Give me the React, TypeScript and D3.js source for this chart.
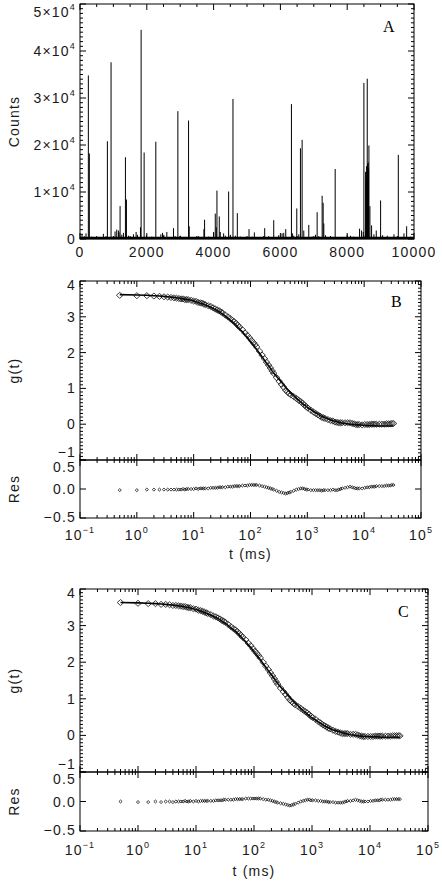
import React from 'react';
import * as d3 from 'd3';

// ---------- Panel A data: photon-count spikes ----------
const spikeBins = [
  250, 280, 820, 930, 1200, 1360, 1390, 1810, 1830, 1920, 2270, 2930, 3250, 3270, 3710, 3730,
  4050, 4080, 4100, 4170, 4450, 4580, 4710, 5060, 5220, 5530, 5800, 6160, 6330, 6490, 6600, 6650,
  6700, 6850, 7100, 7250, 7280, 7300, 7640, 8370, 8430, 8500, 8550, 8560, 8580, 8590, 8600, 8610,
  8620, 8630, 8640, 8650, 8680, 8730, 8870, 9000, 9060, 9530, 9780,
  60, 130, 180, 350, 520, 700, 780, 1050, 1100, 1150, 1170, 1250, 1300, 1450, 1600, 1680, 1720,
  1990, 2150, 2420, 2470, 2510, 2600, 2800, 2850, 3000, 3400, 3550, 3850, 4000, 4200, 4300, 4350,
  4500, 4650, 4800, 4900, 5150, 5300, 5650, 5950, 6050, 6100, 6360, 6400, 6550, 6950, 7050, 7150,
  7350, 7500, 7800, 8000, 8100, 8200, 8480, 8800, 9200, 9400, 9700, 9900,
];
const spikeCounts = [
  34800, 18200, 20800, 37600, 7000, 17400, 8400, 2500, 44500, 18400, 20700, 27200, 25200, 2700, 2100, 4100,
  5400, 2500, 10300, 4800, 10100, 29800, 5500, 2100, 1400, 2300, 4000, 2100, 28700, 6500, 19300, 21100,
  1800, 3000, 5700, 9200, 7700, 3300, 14900, 2200, 1800, 33200, 14300, 12000, 15500, 13000, 34100, 16000,
  14500, 16300, 15000, 19900, 7000, 2900, 1800, 8200, 800, 17900, 2700,
  900, 600, 1200, 500, 400, 1100, 600, 1600, 2000, 1800, 1400, 900, 1300, 700, 1000, 1500, 900,
  800, 500, 1000, 1300, 900, 1500, 2300, 600, 700, 400, 600, 500, 1500, 1500, 1200, 700,
  900, 700, 500, 400, 500, 400, 600, 800, 1200, 1300, 1200, 700, 1000, 500, 900, 600,
  800, 500, 300, 900, 700, 500, 1500, 1000, 700, 1000, 1200, 500,
];
const binTicks = [0, 2000, 4000, 6000, 8000, 10000];
const countTicks = [0, 10000, 20000, 30000, 40000, 50000];

// ---------- Panels B & C: correlation curves ----------
const lagTimes = [
  0.5, 1, 1.5, 2, 2.5, 3, 3.5, 4, 4.5, 5, 5.5, 6, 6.5, 7, 7.5, 8,
  9, 10, 11, 12, 13, 14, 15, 16,
  18, 20, 22, 24, 26, 28, 30, 32,
  36, 40, 44, 48, 52, 56, 60, 64,
  72, 80, 88, 96, 104, 112, 120, 128,
  144, 160, 176, 192, 208, 224, 240, 256,
  288, 320, 352, 384, 416, 448, 480, 512,
  576, 640, 704, 768, 832, 896, 960, 1024,
  1152, 1280, 1408, 1536, 1664, 1792, 1920, 2048,
  2304, 2560, 2816, 3072, 3328, 3584, 3840, 4096,
  4608, 5120, 5632, 6144, 6656, 7168, 7680, 8192,
  9216, 10240, 11264, 12288, 13312, 14336, 15360, 16384,
  18432, 20480, 22528, 24576, 26624, 28672, 30720, 32768,
];
const fitB = [
  3.62, 3.61, 3.60, 3.59, 3.58, 3.57, 3.56, 3.55, 3.54, 3.53, 3.52, 3.51, 3.50, 3.49, 3.48, 3.48,
  3.46, 3.44, 3.42, 3.40, 3.38, 3.37, 3.35, 3.33,
  3.30, 3.27, 3.23, 3.20, 3.17, 3.14, 3.11, 3.08,
  3.02, 2.96, 2.91, 2.86, 2.81, 2.76, 2.71, 2.66,
  2.58, 2.49, 2.42, 2.34, 2.27, 2.21, 2.15, 2.09,
  1.98, 1.88, 1.79, 1.70, 1.63, 1.56, 1.49, 1.43,
  1.33, 1.25, 1.17, 1.10, 1.03, 0.97, 0.92, 0.87,
  0.80, 0.73, 0.67, 0.62, 0.57, 0.53, 0.50, 0.46,
  0.41, 0.36, 0.32, 0.28, 0.25, 0.22, 0.20, 0.18,
  0.15, 0.12, 0.10, 0.08, 0.07, 0.05, 0.04, 0.03,
  0.02, 0.01, 0.00, -0.01, -0.01, -0.02, -0.02, -0.02,
  -0.03, -0.03, -0.04, -0.04, -0.04, -0.04, -0.04, -0.05,
  -0.05, -0.05, -0.05, -0.05, -0.05, -0.05, -0.05, -0.05,
];
const resB = [
  -0.02, -0.02, -0.01, -0.01, -0.01, -0.01, -0.01, -0.01, -0.01, -0.01, -0.01, -0.01, 0.00, -0.01, 0.00, 0.00,
  0.00, 0.00, 0.01, 0.00, 0.01, 0.01, 0.01, 0.01,
  0.01, 0.02, 0.02, 0.02, 0.02, 0.03, 0.03, 0.03,
  0.03, 0.04, 0.04, 0.04, 0.05, 0.05, 0.05, 0.05,
  0.06, 0.06, 0.06, 0.07, 0.07, 0.07, 0.07, 0.07,
  0.06, 0.05, 0.04, 0.03, 0.02, 0.01, 0.00, -0.01,
  -0.03, -0.05, -0.06, -0.07, -0.08, -0.07, -0.06, -0.05,
  -0.03, -0.01, 0.00, 0.01, 0.01, 0.00, -0.01, -0.01,
  -0.02, -0.02, -0.02, -0.02, -0.02, -0.03, -0.02, -0.02,
  -0.02, -0.02, -0.01, -0.02, -0.02, -0.01, 0.00, 0.01,
  0.02, 0.03, 0.04, 0.03, 0.02, 0.01, 0.01, 0.01,
  0.01, 0.02, 0.03, 0.03, 0.04, 0.04, 0.04, 0.05,
  0.05, 0.05, 0.05, 0.06, 0.06, 0.06, 0.07, 0.07,
];
const fitC = [
  3.63, 3.62, 3.61, 3.60, 3.59, 3.58, 3.57, 3.56, 3.55, 3.54, 3.53, 3.52, 3.51, 3.50, 3.49, 3.48,
  3.46, 3.44, 3.42, 3.40, 3.38, 3.36, 3.34, 3.32,
  3.29, 3.25, 3.22, 3.19, 3.16, 3.12, 3.09, 3.06,
  3.00, 2.94, 2.89, 2.84, 2.79, 2.74, 2.69, 2.64,
  2.56, 2.47, 2.40, 2.32, 2.25, 2.19, 2.13, 2.07,
  1.96, 1.86, 1.77, 1.69, 1.62, 1.55, 1.48, 1.42,
  1.32, 1.24, 1.17, 1.10, 1.04, 0.98, 0.93, 0.88,
  0.81, 0.74, 0.68, 0.63, 0.58, 0.54, 0.50, 0.47,
  0.42, 0.37, 0.33, 0.29, 0.26, 0.23, 0.21, 0.19,
  0.15, 0.13, 0.11, 0.09, 0.07, 0.06, 0.05, 0.04,
  0.02, 0.01, 0.00, -0.01, -0.02, -0.02, -0.03, -0.03,
  -0.03, -0.04, -0.04, -0.04, -0.04, -0.04, -0.05, -0.05,
  -0.05, -0.05, -0.05, -0.05, -0.05, -0.05, -0.05, -0.05,
];
const resC = [
  0.00, -0.01, -0.01, 0.00, -0.01, 0.00, 0.00, -0.01, 0.00, 0.00, 0.00, 0.00, 0.01, 0.00, 0.00, 0.01,
  0.00, 0.01, 0.00, 0.01, 0.01, 0.01, 0.01, 0.01,
  0.01, 0.01, 0.02, 0.02, 0.02, 0.02, 0.03, 0.03,
  0.03, 0.03, 0.03, 0.04, 0.04, 0.04, 0.04, 0.04,
  0.05, 0.05, 0.05, 0.05, 0.05, 0.05, 0.05, 0.05,
  0.04, 0.03, 0.03, 0.02, 0.01, 0.00, -0.01, -0.02,
  -0.03, -0.04, -0.05, -0.06, -0.07, -0.06, -0.05, -0.04,
  -0.02, 0.00, 0.01, 0.02, 0.03, 0.03, 0.02, 0.02,
  0.02, 0.01, 0.01, 0.00, 0.00, 0.00, -0.01, -0.01,
  -0.01, -0.02, -0.02, -0.02, -0.02, -0.01, 0.00, 0.01,
  0.01, 0.02, 0.03, 0.02, 0.01, 0.00, 0.00, 0.00,
  0.00, 0.01, 0.01, 0.02, 0.02, 0.02, 0.03, 0.03,
  0.03, 0.03, 0.03, 0.04, 0.04, 0.04, 0.04, 0.04,
];
const gTicks = [-1, 0, 1, 2, 3, 4];
const resTicks = [-0.5, 0, 0.5];
const resTickLabels = ['\u22120.5', '0.0', '0.5'];
const decadeExps = [-1, 0, 1, 2, 3, 4, 5];

const SANS = '"Liberation Sans", Arial, Helvetica, sans-serif';
const SERIF = '"Liberation Serif", "Times New Roman", serif';
const TXT = '#1a1a1a';
const LS = 1.2;

const minus = (s: string) => s.replace('-', '\u2212');

function CountsPanel() {
  const L = 80, R = 414, T = 4, B = 239;
  const x = d3.scaleLinear().domain([0, 10000]).range([L, R]);
  const y = d3.scaleLinear().domain([0, 50000]).range([B, T]);
  const xMinor = d3.range(0, 10001, 500);
  const yMinor = d3.range(0, 50001, 1000);
  return (
    <g>
      {spikeBins.map((b, i) => (
        <line key={'s' + i} x1={x(b)} x2={x(b)} y1={y(0)} y2={y(spikeCounts[i])} stroke="#000" strokeWidth={1} />
      ))}
      <line x1={L} x2={R} y1={B - 1} y2={B - 1} stroke="#000" strokeWidth={2.5} />
      <rect x={L} y={T} width={R - L} height={B - T} fill="none" stroke="#000" strokeWidth={1} />
      {xMinor.map((v) => {
        const len = v % 2000 === 0 ? 6 : 3;
        return (
          <g key={'xt' + v}>
            <line x1={x(v)} x2={x(v)} y1={B} y2={B - len} stroke="#000" />
            <line x1={x(v)} x2={x(v)} y1={T} y2={T + len} stroke="#000" />
          </g>
        );
      })}
      {yMinor.map((v) => {
        const len = v % 10000 === 0 ? 6 : 3;
        return (
          <g key={'yt' + v}>
            <line x1={L} x2={L + len} y1={y(v)} y2={y(v)} stroke="#000" />
            <line x1={R} x2={R - len} y1={y(v)} y2={y(v)} stroke="#000" />
          </g>
        );
      })}
      {binTicks.map((v) => (
        <text key={'xl' + v} x={x(v)} y={257} textAnchor="middle" fontSize={14} fill={TXT} letterSpacing={LS}>
          {v}
        </text>
      ))}
      {countTicks.map((v) => (
        <text key={'yl' + v} x={76} y={Math.max(y(v) + 5, 17)} textAnchor="end" fontSize={14} fill={TXT} letterSpacing={LS}>
          {v === 0 ? '0' : (
            <>
              {`${v / 10000}\u00d710`}
              <tspan fontSize={9} dy={-7}>4</tspan>
            </>
          )}
        </text>
      ))}
      <text transform={`translate(19,${(T + B) / 2}) rotate(-90)`} textAnchor="middle" fontSize={14} fill={TXT} letterSpacing={LS}>
        Counts
      </text>
      <text x={383} y={32} fontFamily={SERIF} fontSize={16} fill="#000">A</text>
    </g>
  );
}

type PanelProps = {
  L: number; R: number; T: number; M: number; B: number;
  fit: number[]; res: number[]; letter: string; letterX: number; letterY: number;
  tickBase: number; titleBase: number;
};

function diamond(cx: number, cy: number, w: number, h: number) {
  return `M${cx - w},${cy}L${cx},${cy - h}L${cx + w},${cy}L${cx},${cy + h}Z`;
}

function FcsPanel({ L, R, T, M, B, fit, res, letter, letterX, letterY, tickBase, titleBase }: PanelProps) {
  const x = d3.scaleLog().domain([0.1, 1e5]).range([L, R]);
  const yg = d3.scaleLinear().domain([-1, 4]).range([M, T]);
  const yr = d3.scaleLinear().domain([-0.5, 0.5]).range([B, M]);
  const rows = lagTimes.map((t, i) => ({ t, fit: fit[i], res: res[i], g: fit[i] + res[i] }));
  const fitLine = d3.line<{ t: number; fit: number }>().x((d) => x(d.t)).y((d) => yg(d.fit));

  const xt: { v: number; major: boolean }[] = [];
  for (let e = -1; e <= 4; e++) for (let k = 1; k <= 9; k++) xt.push({ v: k * Math.pow(10, e), major: k === 1 });
  xt.push({ v: 1e5, major: true });
  const gMinor = d3.range(-10, 41).map((k) => k / 10);

  // label baselines kept inside each panel's vertical span, as in the reference
  const gBase = (v: number) => (v === 4 ? yg(v) + 9 : v === -1 ? yg(v) - 3 : yg(v) + 5);
  const rBase = (v: number) => (v === 0.5 ? yr(v) + 12 : v === -0.5 ? yr(v) + 4 : yr(v) + 5);

  return (
    <g>
      <rect x={L} y={T} width={R - L} height={M - T} fill="none" stroke="#000" />
      <rect x={L} y={M} width={R - L} height={B - M} fill="none" stroke="#000" />
      {xt.map(({ v, major }, i) => {
        const len = major ? 6 : 3;
        const px = x(v);
        return (
          <g key={'xt' + i}>
            <line x1={px} x2={px} y1={T} y2={T + len} stroke="#000" />
            <line x1={px} x2={px} y1={M} y2={M - len} stroke="#000" />
            <line x1={px} x2={px} y1={M} y2={M + len} stroke="#000" />
            <line x1={px} x2={px} y1={B} y2={B - len} stroke="#000" />
          </g>
        );
      })}
      {gMinor.map((v, i) => {
        const major = Math.abs(v - Math.round(v)) < 1e-6;
        const len = major ? 6 : 3;
        return (
          <g key={'gt' + i}>
            <line x1={L} x2={L + len} y1={yg(v)} y2={yg(v)} stroke="#000" />
            <line x1={R} x2={R - len} y1={yg(v)} y2={yg(v)} stroke="#000" />
          </g>
        );
      })}
      {resTicks.map((v, i) => (
        <g key={'rt' + i}>
          <line x1={L} x2={L + 6} y1={yr(v)} y2={yr(v)} stroke="#000" />
          <line x1={R} x2={R - 6} y1={yr(v)} y2={yr(v)} stroke="#000" />
        </g>
      ))}
      <path d={fitLine(rows) || ''} fill="none" stroke="#000" strokeWidth={1.6} />
      {rows.map((d, i) => (
        <path key={'p' + i} d={diamond(x(d.t), yg(d.g), 3.3, 3)} fill="none" stroke="#111" strokeWidth={0.8} />
      ))}
      {rows.map((d, i) => (
        <path key={'r' + i} d={diamond(x(d.t), yr(d.res), 1.6, 1.5)} fill="none" stroke="#111" strokeWidth={0.8} />
      ))}
      {gTicks.map((v) => (
        <text key={'gl' + v} x={76} y={gBase(v)} textAnchor="end" fontSize={14} fill={TXT} letterSpacing={LS}>
          {minus(String(v))}
        </text>
      ))}
      {resTicks.map((v, i) => (
        <text key={'rl' + i} x={76} y={rBase(v)} textAnchor="end" fontSize={14} fill={TXT} letterSpacing={LS}>
          {resTickLabels[i]}
        </text>
      ))}
      {decadeExps.map((e) => (
        <text key={'dl' + e} x={x(Math.pow(10, e))} y={tickBase} textAnchor="middle" fontSize={14} fill={TXT} letterSpacing={LS}>
          10<tspan fontSize={9} dy={-7}>{minus(String(e))}</tspan>
        </text>
      ))}
      <text x={(L + R) / 2} y={titleBase} textAnchor="middle" fontSize={14} fill={TXT} letterSpacing={LS}>
        t (ms)
      </text>
      <text transform={`translate(19,${(T + M) / 2}) rotate(-90)`} textAnchor="middle" fontSize={14} fill={TXT} letterSpacing={LS}>
        g(t)
      </text>
      <text transform={`translate(19,${(M + B) / 2}) rotate(-90)`} textAnchor="middle" fontSize={14} fill={TXT} letterSpacing={LS}>
        Res
      </text>
      <text x={letterX} y={letterY} fontFamily={SERIF} fontSize={16} fill="#000">{letter}</text>
    </g>
  );
}

export default function App() {
  return (
    <svg
      width={442}
      height={882}
      style={{ position: 'absolute', left: 0, top: 0, background: '#fff' }}
      fontFamily={SANS}
    >
      <rect width={442} height={882} fill="#fff" />
      <CountsPanel />
      <FcsPanel L={80} R={421} T={281} M={460} B={518} fit={fitB} res={resB} letter="B"
        letterX={391} letterY={307} tickBase={540} titleBase={559} />
      <FcsPanel L={80} R={428} T={589} M={772} B={831} fit={fitC} res={resC} letter="C"
        letterX={398} letterY={617} tickBase={855} titleBase={876} />
    </svg>
  );
}
